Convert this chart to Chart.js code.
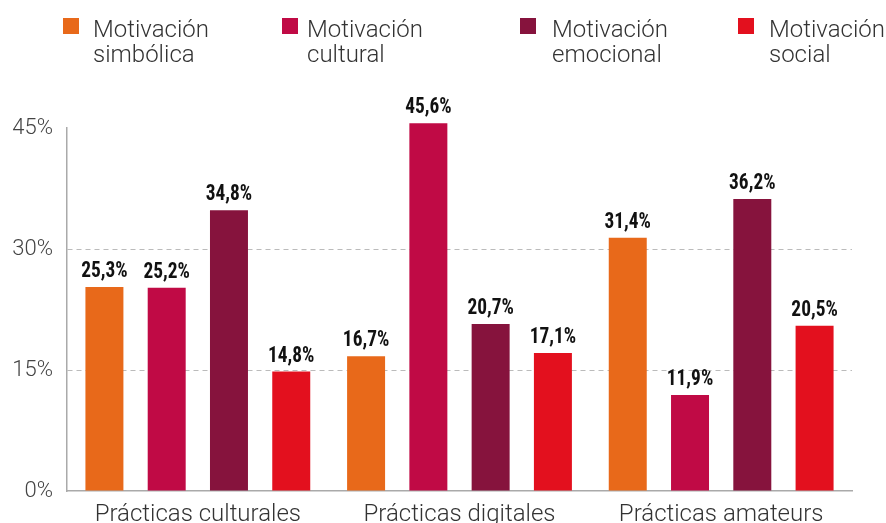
<!DOCTYPE html>
<html><head><meta charset="utf-8">
<script src="https://cdn.jsdelivr.net/npm/chart.js@4/dist/chart.umd.min.js"></script>
<style>
html,body{margin:0;padding:0;background:#fff;width:886px;height:523px;overflow:hidden;}
#wrap{position:relative;width:886px;height:523px;}
canvas{position:absolute;left:0;top:0;}
.lg{position:absolute;top:16.5px;font-family:Roboto,sans-serif;font-weight:300;font-size:24px;line-height:25px;color:#333;white-space:nowrap;}
.sw{position:absolute;width:16px;height:16px;top:18px;}
</style></head>
<body><div id="wrap"><canvas id="c" width="886" height="523"></canvas></div>
<script>
const categories = ["Prácticas culturales", "Prácticas digitales", "Prácticas amateurs"];
const seriesNames = [["Motivación","simbólica"],["Motivación","cultural"],["Motivación","emocional"],["Motivación","social"]];
const simbolica = [25.3, 16.7, 31.4];
const cultural = [25.2, 45.6, 11.9];
const emocional = [34.8, 20.7, 36.2];
const social = [14.8, 17.1, 20.5];
const yTicks = [0, 15, 30, 45];
const colors = ["#E8691A", "#C00A45", "#86133D", "#E3101E"];

// HTML legend
const swatchX = [63, 282, 520, 738];
const textX = [93, 307, 552, 769];
const wrap = document.getElementById('wrap');
seriesNames.forEach((n, i) => {
  const sw = document.createElement('div');
  sw.className = 'sw'; sw.style.left = swatchX[i] + 'px'; sw.style.background = colors[i];
  wrap.appendChild(sw);
  const t = document.createElement('div');
  t.className = 'lg'; t.style.left = textX[i] + 'px';
  t.innerHTML = n[0] + '<br>' + n[1];
  wrap.appendChild(t);
});

const labelPlugin = {
  id: 'vals',
  afterDatasetsDraw(chart) {
    const ctx = chart.ctx;
    chart.data.datasets.forEach((ds, di) => {
      chart.getDatasetMeta(di).data.forEach((bar, i) => {
        ctx.save();
        ctx.font = "bold 22px 'Liberation Sans Narrow', 'Roboto Condensed', 'DejaVu Sans Condensed', sans-serif";
        ctx.fillStyle = '#111';
        ctx.textAlign = 'center';
        ctx.textBaseline = 'alphabetic';
        ctx.translate(bar.x, bar.y - 10);
        ctx.scale(0.88, 1);
        ctx.fillText(ds.data[i].toFixed(1).replace('.', ',') + '%', 0, 0);
        ctx.restore();
      });
    });
  }
};

const dataArr = [simbolica, cultural, emocional, social];
new Chart(document.getElementById('c'), {
  type: 'bar',
  data: {
    labels: categories,
    datasets: dataArr.map((d, i) => ({
      label: seriesNames[i].join(' '),
      data: d,
      backgroundColor: colors[i],
      categoryPercentage: 0.952,
      barPercentage: 0.61,
      clip: false
    }))
  },
  options: {
    responsive: false,
    animation: false,
    plugins: { legend: { display: false }, tooltip: { enabled: false } },
    layout: { padding: { top: 128, right: 34, left: 0, bottom: 0 } },
    scales: {
      x: {
        grid: { display: false },
        border: { color: '#aaa', width: 1.5 },
        ticks: { color: '#333', font: { family: 'Roboto', weight: 300, size: 24 }, padding: 2 },
        afterFit(s) { s.height = 32; }
      },
      y: {
        min: 0, max: 45,
        afterBuildTicks(s) { s.ticks = yTicks.map(v => ({ value: v })); },
        grid: {
          color: ctx => (ctx.tick && (ctx.tick.value === 15 || ctx.tick.value === 30)) ? '#bbb' : 'rgba(0,0,0,0)',
          lineWidth: 1,
          drawTicks: false
        },
        border: { color: '#aaa', width: 1.5, dash: [5, 4] },
        ticks: { color: '#444', font: { family: 'Roboto', weight: 300, size: 22 }, padding: 14, callback: v => v + '%' },
        afterFit(s) { s.width = 67; }
      }
    }
  },
  plugins: [labelPlugin]
});
</script></body></html>
